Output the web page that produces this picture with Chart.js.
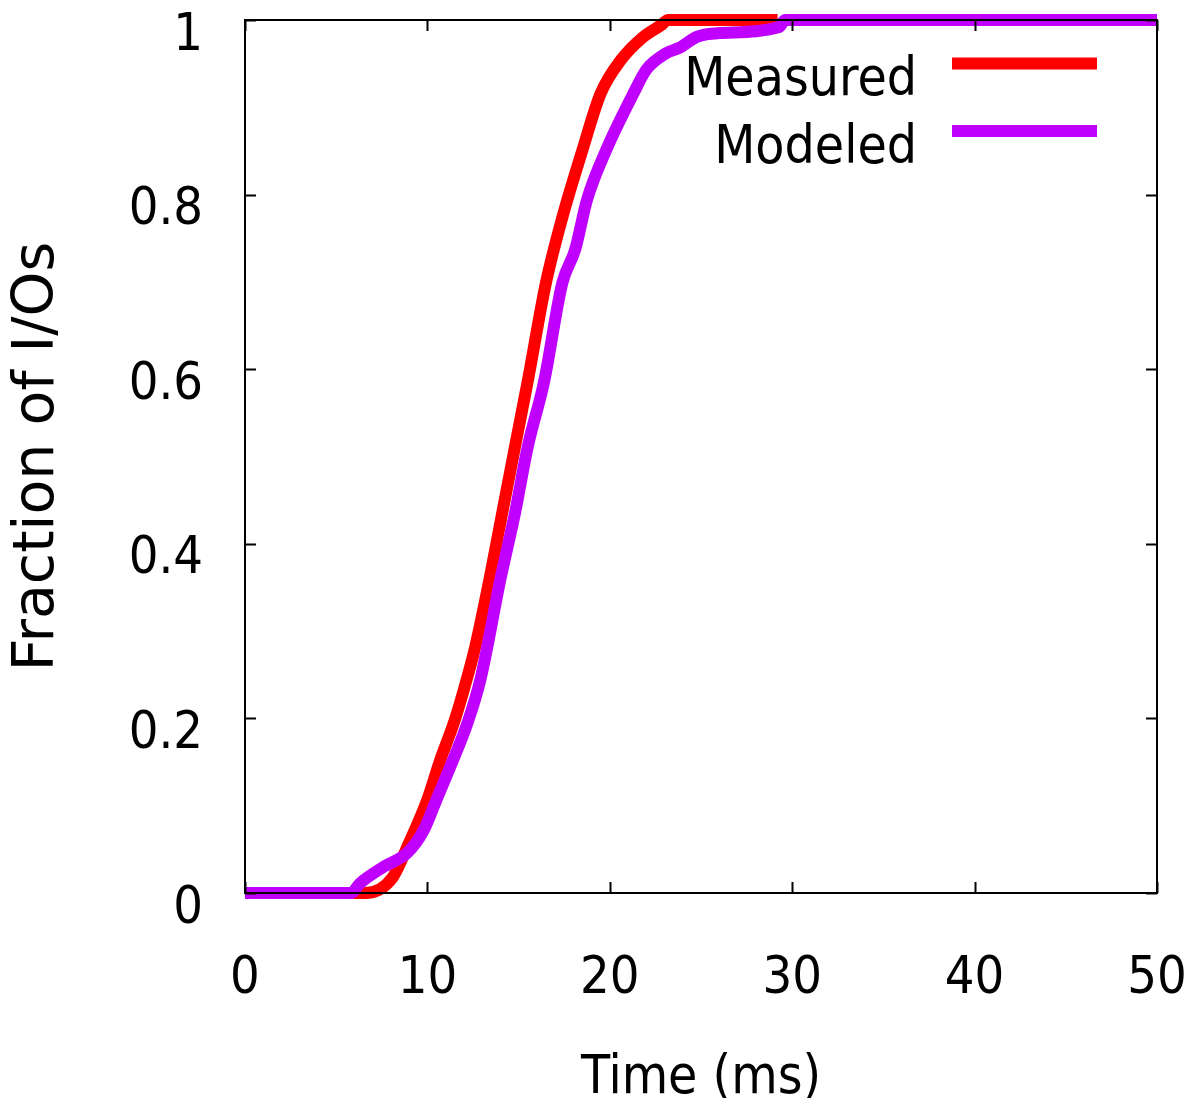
<!DOCTYPE html>
<html><head><meta charset="utf-8">
<script src="https://cdn.jsdelivr.net/npm/chart.js@4.4.1/dist/chart.umd.min.js"></script>
<style>html,body{margin:0;padding:0;background:#fff;overflow:hidden}</style>
</head><body>
<canvas id="c" width="1192" height="1098" style="display:block;width:1192px;height:1098px"></canvas>
<script>
const seriesNames = ['Measured', 'Modeled'];
const measuredTime     = [0, 6.6, 8.1, 8.9, 10.0, 10.7, 11.5, 12.2, 12.6, 13.4, 14.1, 14.8, 15.5, 16.5, 17.4, 18.5, 19.5, 20.6, 21.8, 22.8, 23.2, 29.2];
const measuredFraction = [0, 0, 0.018, 0.053, 0.107, 0.152, 0.198, 0.248, 0.28, 0.359, 0.435, 0.511, 0.586, 0.699, 0.774, 0.851, 0.916, 0.954, 0.98, 0.994, 1.0, 1.0];
const modeledTime      = [0, 5.8, 6.3, 7.6, 8.9, 9.8, 10.5, 11.4, 12.2, 12.9, 14.0, 14.8, 15.5, 16.4, 17.4, 18.1, 18.75, 19.8, 21.3, 22.0, 23.1, 23.8, 24.8, 26.0, 29.3, 29.6, 50];
const modeledFraction  = [0, 0, 0.011, 0.03, 0.046, 0.072, 0.107, 0.152, 0.195, 0.244, 0.359, 0.435, 0.511, 0.586, 0.699, 0.737, 0.794, 0.851, 0.916, 0.943, 0.962, 0.968, 0.981, 0.985, 0.992, 1.0, 1.0];
const xTickLabels = ['0', '10', '20', '30', '40', '50'];
const yTickLabels = ['0', '0.2', '0.4', '0.6', '0.8', '1'];
const xTitle = 'Time (ms)';
const yTitle = 'Fraction of I/Os';

const COND = "'DejaVu Sans Condensed', 'DejaVu Sans', sans-serif";
const NORM = "'DejaVu Sans', sans-serif";

function pts(xs, ys) { return xs.map((x, i) => ({x: x, y: ys[i]})); }

const framePlugin = {
  id: 'gpFrame',
  afterDatasetsDraw(chart) {
    const {ctx, chartArea: a, scales} = chart;
    const sx = scales.x, sy = scales.y;
    ctx.save();
    ctx.strokeStyle = '#000';
    ctx.lineWidth = 2;
    ctx.strokeRect(a.left, a.top, a.right - a.left, a.bottom - a.top);
    ctx.beginPath();
    const L = 11;
    sx.ticks.forEach(t => {
      const p = Math.round(sx.getPixelForValue(t.value)) + 0.5;
      ctx.moveTo(p, a.bottom); ctx.lineTo(p, a.bottom - L);
      ctx.moveTo(p, a.top); ctx.lineTo(p, a.top + L);
    });
    sy.ticks.forEach(t => {
      const p = Math.round(sy.getPixelForValue(t.value)) + 0.5;
      ctx.moveTo(a.left, p); ctx.lineTo(a.left + L, p);
      ctx.moveTo(a.right, p); ctx.lineTo(a.right - L, p);
    });
    ctx.stroke();
    // legend (gnuplot style: text right-aligned, line sample to the right)
    ctx.font = "53px " + COND;
    ctx.textAlign = 'right';
    ctx.textBaseline = 'alphabetic';
    ctx.fillStyle = '#000';
    chart.data.datasets.forEach((ds, i) => {
      const ly = a.top + 43.5 + i * 67.5;
      ctx.fillText(ds.label, a.right - 240, a.top + 75 + i * 67.5);
      ctx.strokeStyle = ds.borderColor;
      ctx.lineWidth = 12;
      ctx.lineCap = 'butt';
      ctx.beginPath(); ctx.moveTo(a.right - 205, ly); ctx.lineTo(a.right - 60, ly); ctx.stroke();
    });
    ctx.restore();
  }
};

new Chart(document.getElementById('c'), {
  type: 'line',
  data: {
    datasets: [
      { label: seriesNames[0], data: pts(measuredTime, measuredFraction), borderColor: '#ff0000', backgroundColor: '#ff0000',
        borderWidth: 12, pointRadius: 0, cubicInterpolationMode: 'monotone', clip: false, order: 2 },
      { label: seriesNames[1], data: pts(modeledTime, modeledFraction), borderColor: '#c000ff', backgroundColor: '#c000ff',
        borderWidth: 12, pointRadius: 0, cubicInterpolationMode: 'monotone', clip: false, order: 1 }
    ]
  },
  options: {
    responsive: false,
    animation: false,
    devicePixelRatio: 1,
    layout: { padding: { left: 0, top: 20, right: 35, bottom: 0 } },
    plugins: { legend: { display: false }, tooltip: { enabled: false } },
    scales: {
      x: {
        type: 'linear', min: 0, max: 50,
        grid: { display: false, drawTicks: false },
        border: { display: false },
        ticks: { stepSize: 10, padding: 55, color: '#000', font: { family: COND, size: 52 },
                 maxRotation: 0, callback: (v, i) => xTickLabels[i] },
        title: { display: true, text: xTitle, color: '#000', font: { family: COND, size: 53 }, padding: { top: 0, bottom: -13 } },
        afterFit: s => { s.height = 205; s.paddingLeft = 0; s.paddingRight = 0; }
      },
      y: {
        type: 'linear', min: 0, max: 1,
        grid: { display: false, drawTicks: false },
        border: { display: false },
        ticks: { stepSize: 0.2, padding: 42, labelOffset: 16, color: '#000', font: { family: COND, size: 52 },
                 callback: (v, i) => yTickLabels[i] },
        title: { display: true, text: yTitle, color: '#000', font: { family: NORM, size: 57 }, padding: { top: 4, bottom: 4 } },
        afterFit: s => { s.width = 245; s.paddingTop = 0; s.paddingBottom = 0; }
      }
    }
  },
  plugins: [framePlugin]
});
</script>
</body></html>
